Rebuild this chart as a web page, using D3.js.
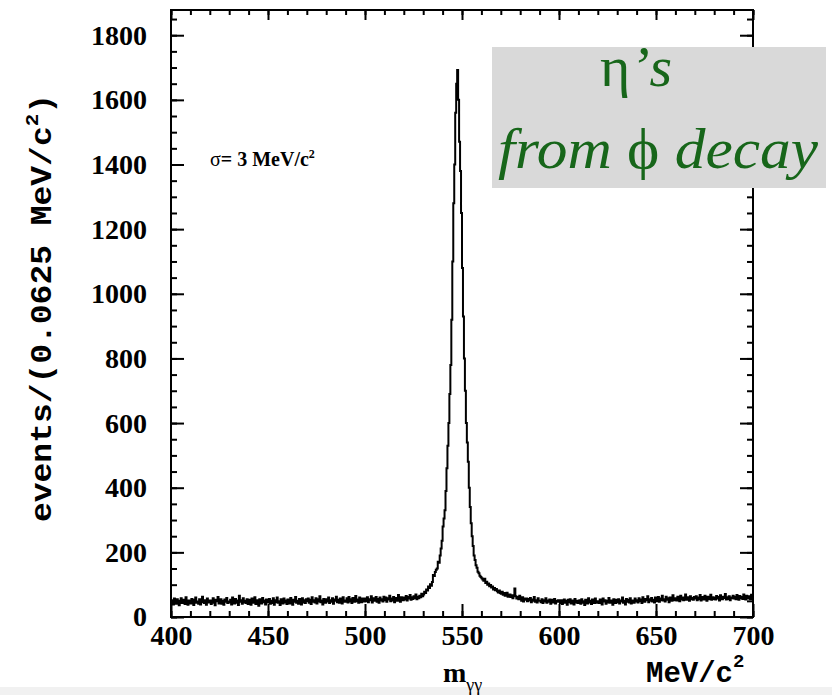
<!DOCTYPE html>
<html>
<head>
<meta charset="utf-8">
<script src="https://cdn.jsdelivr.net/npm/d3@7"></script>
<style>
    body { margin: 0; background: #fff; }
    svg { display: block; }
</style>
</head>
<body>
<svg id="chart" width="832" height="695"></svg>
<script>
// histogram of m_gamma-gamma, bins of 0.5 MeV starting at 400 MeV
const massLo = 400;
const massHi = 700;
const binWidth = 0.5;

const counts = [
    44,52,39,57,46,41,55,49,36,50,58,43,47,53,40,61,45,38,51,47,
    42,56,49,37,53,60,44,48,41,55,39,50,63,46,43,52,38,57,45,49,
    51,40,47,58,44,36,53,49,62,42,46,55,41,50,38,54,47,59,43,48,
    45,53,39,60,48,42,56,44,51,37,66,47,52,41,58,45,50,43,55,40,
    53,46,38,57,49,44,61,40,52,47,35,55,48,42,59,46,51,39,54,45,
    47,56,41,50,43,58,38,52,46,60,44,49,37,55,48,42,57,45,51,40,
    54,46,42,59,49,38,53,47,62,44,50,41,56,48,39,58,45,52,43,55,
    49,57,44,53,40,61,47,52,45,58,42,55,48,64,46,51,39,56,50,44,
    55,48,60,43,52,47,58,41,54,50,63,46,53,44,57,49,42,61,51,47,
    50,58,45,62,48,55,43,59,52,47,65,49,54,44,60,51,46,57,53,48,
    57,49,61,46,55,52,64,45,58,50,53,62,47,56,44,60,51,55,48,63,
    52,60,47,58,54,66,49,57,51,62,46,59,55,50,68,53,47,61,56,52,
    60,54,65,51,62,57,68,53,61,56,64,59,70,55,63,58,66,61,72,64,
    70,78,74,85,82,94,90,101,97,108,130,127,139,146,150,171,168,190,212,236,
    280,305,330,390,460,530,600,690,780,920,1100,1280,1400,1560,1650,1692,1600,1470,1380,1250,
    1080,930,800,700,600,540,480,400,340,290,250,220,190,176,160,152,140,135,128,124,
    120,116,112,118,105,109,100,104,95,99,91,94,85,90,83,87,80,76,82,74,
    72,78,69,74,66,71,75,63,68,70,62,67,58,65,88,64,57,62,55,66,
    55,50,61,48,57,53,57,49,56,51,59,46,54,50,62,47,52,45,58,50,
    50,46,55,43,52,48,58,44,51,47,54,41,49,53,45,56,42,50,47,52,
    47,43,52,40,49,54,44,50,38,53,46,55,42,48,51,39,56,45,50,43,
    46,52,41,55,44,49,37,53,47,42,58,45,50,40,54,46,43,57,48,44,
    49,43,54,46,39,57,48,52,41,50,45,59,44,51,47,38,55,49,43,53,
    46,55,42,51,48,60,44,50,39,56,47,53,45,58,42,51,49,44,57,48,
    52,45,58,49,54,43,61,50,47,56,52,64,46,55,50,59,48,53,45,60,
    54,49,62,47,57,52,66,51,55,48,63,53,58,46,60,55,50,67,52,56,
    58,51,63,55,49,66,54,60,52,57,70,53,61,56,50,64,55,59,53,62,
    57,64,52,60,55,68,51,58,62,54,66,57,50,63,59,55,69,53,61,56,
    60,54,65,57,62,51,67,58,55,63,59,71,54,61,56,64,52,60,58,66,
    57,63,55,68,60,53,65,58,62,56,70,59,54,66,61,57,64,55,69,60
];

const xTicks = [400, 450, 500, 550, 600, 650, 700];
const yTicks = [0, 200, 400, 600, 800, 1000, 1200, 1400, 1600, 1800];
const yMax = 1878;

const margin = { left: 171, right: 79, top: 10, bottom: 78 };
const width = 832, height = 695;

const svg = d3.select("#chart");

// faint strip at the very bottom of the slide
svg.append("rect")
    .attr("x", 0).attr("y", 687)
    .attr("width", width).attr("height", height - 687)
    .attr("fill", "#f1f1f1");

const x = d3.scaleLinear()
    .domain([massLo, massHi])
    .range([margin.left, width - margin.right]);

const y = d3.scaleLinear()
    .domain([0, yMax])
    .range([height - margin.bottom, margin.top]);

const serif = "'Liberation Serif', 'Times New Roman', serif";
const mono = "'Liberation Mono', 'Courier New', monospace";

function styleAxis(g, size) {
    g.select(".domain").remove();
    g.selectAll(".tick line").attr("stroke", "#000").attr("stroke-width", 2);
    g.selectAll("text")
        .attr("fill", "#000")
        .style("font-family", serif)
        .style("font-weight", "bold")
        .style("font-size", size + "px");
}

const xMinor = d3.range(massLo, massHi + 0.1, 10);
const yMinor = d3.range(0, yMax, 50);

// bottom
svg.append("g").attr("transform", `translate(0,${y(0)})`)
    .call(d3.axisBottom(x).tickValues(xMinor).tickSize(-6).tickFormat(""))
    .call(g => styleAxis(g, 28));
svg.append("g").attr("transform", `translate(0,${y(0)})`)
    .call(d3.axisBottom(x).tickValues(xTicks).tickSize(-13).tickPadding(8).tickFormat(d3.format("d")))
    .call(g => styleAxis(g, 28));

// top
svg.append("g").attr("transform", `translate(0,${margin.top})`)
    .call(d3.axisTop(x).tickValues(xMinor).tickSize(-5).tickFormat(""))
    .call(g => styleAxis(g, 28));
svg.append("g").attr("transform", `translate(0,${margin.top})`)
    .call(d3.axisTop(x).tickValues(xTicks).tickSize(-10).tickFormat(""))
    .call(g => styleAxis(g, 28));

// left
svg.append("g").attr("transform", `translate(${margin.left},0)`)
    .call(d3.axisLeft(y).tickValues(yMinor).tickSize(-6).tickFormat(""))
    .call(g => styleAxis(g, 28));
svg.append("g").attr("transform", `translate(${margin.left},0)`)
    .call(d3.axisLeft(y).tickValues(yTicks).tickSize(-13).tickPadding(24).tickFormat(d3.format("d")))
    .call(g => styleAxis(g, 28));

// right
svg.append("g").attr("transform", `translate(${width - margin.right},0)`)
    .call(d3.axisRight(y).tickValues(yMinor).tickSize(-6).tickFormat(""))
    .call(g => styleAxis(g, 28));
svg.append("g").attr("transform", `translate(${width - margin.right},0)`)
    .call(d3.axisRight(y).tickValues(yTicks).tickSize(-13).tickFormat(""))
    .call(g => styleAxis(g, 28));

// frame
svg.append("rect")
    .attr("x", x(massLo))
    .attr("y", y(yMax))
    .attr("width", x(massHi) - x(massLo))
    .attr("height", y(0) - y(yMax))
    .attr("fill", "none")
    .attr("stroke", "#000")
    .attr("stroke-width", 2);

// histogram outline
const bins = counts.map((c, i) => ({ m: massLo + i * binWidth, n: c }));
bins.push({ m: massHi, n: counts[counts.length - 1] });

const line = d3.line()
    .x(d => x(d.m))
    .y(d => y(d.n))
    .curve(d3.curveStepAfter);

svg.append("path")
    .datum(bins)
    .attr("d", line)
    .attr("fill", "none")
    .attr("stroke", "#000")
    .attr("stroke-width", 2)
    .attr("stroke-linejoin", "miter");

// y title
svg.append("text")
    .attr("transform", "translate(51,308) rotate(-90)")
    .attr("text-anchor", "middle")
    .attr("textLength", 428)
    .attr("lengthAdjust", "spacingAndGlyphs")
    .style("font-family", mono)
    .style("font-weight", "bold")
    .style("font-size", "30px")
    .attr("fill", "#000")
    .call(t => {
        t.append("tspan").text("events/(0.0625 MeV/c");
        t.append("tspan").attr("dy", -13).style("font-size", "19px").text("2");
        t.append("tspan").attr("dy", 13).text(")");
    });

// x titles
svg.append("text")
    .attr("x", 443).attr("y", 682)
    .style("font-family", serif)
    .style("font-weight", "bold")
    .style("font-size", "28px")
    .attr("fill", "#000")
    .call(t => {
        t.append("tspan").text("m");
        t.append("tspan").attr("dy", 9).style("font-size", "18px").style("font-weight", "normal").text("γγ");
    });

svg.append("text")
    .attr("x", 646).attr("y", 682)
    .style("font-family", mono)
    .style("font-weight", "bold")
    .style("font-size", "29px")
    .attr("fill", "#000")
    .call(t => {
        t.append("tspan").text("MeV/c");
        t.append("tspan").attr("dy", -15).style("font-size", "19px").text("2");
    });

// resolution note
svg.append("text")
    .attr("x", 210).attr("y", 166)
    .style("font-family", serif)
    .style("font-weight", "bold")
    .style("font-size", "20px")
    .attr("fill", "#000")
    .call(t => {
        t.append("tspan").style("font-weight", "normal").text("σ");
        t.append("tspan").text("= 3 MeV/c");
        t.append("tspan").attr("dy", -8).style("font-size", "12px").text("2");
    });

// label box
const green = "#17661a";
svg.append("rect")
    .attr("x", 492).attr("y", 47)
    .attr("width", 334).attr("height", 141)
    .attr("fill", "#d9d9d9");

svg.append("text")
    .attr("x", 636).attr("y", 86)
    .attr("text-anchor", "middle")
    .style("font-family", serif)
    .style("font-size", "58px")
    .attr("fill", green)
    .call(t => {
        t.append("tspan").text("η");
        t.append("tspan").style("font-style", "italic").text("’s");
    });

svg.append("text")
    .attr("x", 498).attr("y", 168)
    .attr("textLength", 320)
    .attr("lengthAdjust", "spacingAndGlyphs")
    .style("font-family", serif)
    .style("font-size", "56px")
    .attr("fill", green)
    .call(t => {
        t.append("tspan").style("font-style", "italic").text("from ");
        t.append("tspan").text("ϕ");
        t.append("tspan").style("font-style", "italic").text(" decay");
    });
</script>
</body>
</html>
